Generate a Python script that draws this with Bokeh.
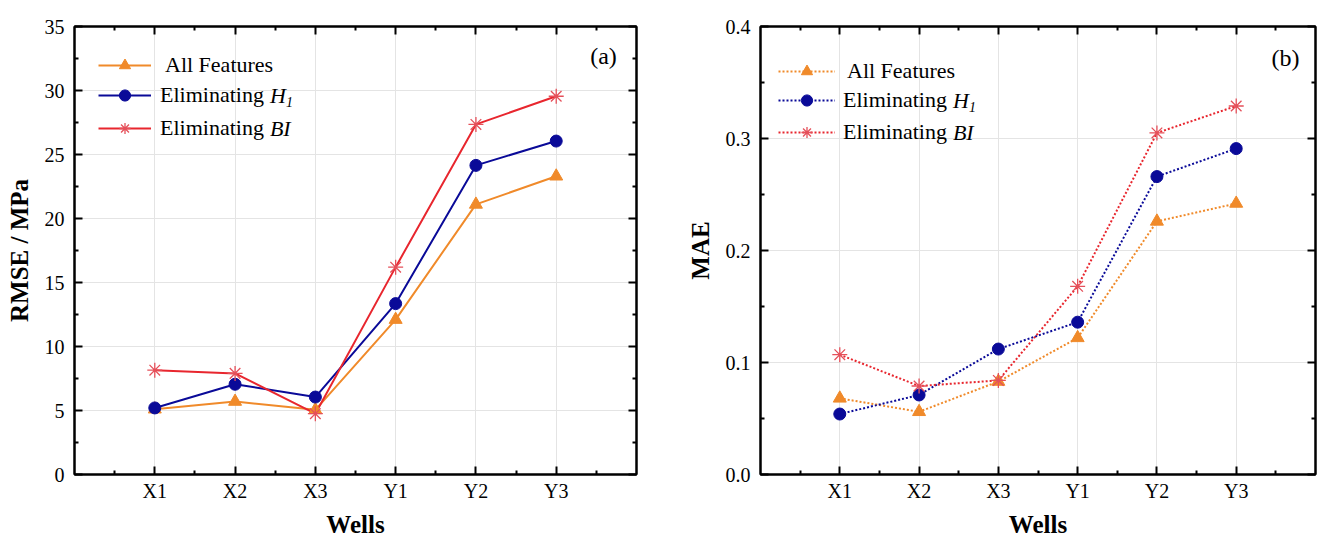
from bokeh.plotting import figure
from bokeh.layouts import row
from bokeh.models import (FixedTicker, LinearAxis, Legend, LegendItem, Label,
                          Range1d, PrintfTickFormatter)
from bokeh.embed import file_html
from bokeh.resources import INLINE

# ---- data ----
wells = ["X1", "X2", "X3", "Y1", "Y2", "Y3"]
well_pos = [1, 2, 3, 4, 5, 6]

rmse_all = [5.1, 5.7, 5.05, 12.1, 21.1, 23.3]
rmse_no_h1 = [5.2, 7.05, 6.05, 13.35, 24.15, 26.05]
rmse_no_bi = [8.15, 7.9, 4.75, 16.2, 27.35, 29.55]

mae_all = [0.068, 0.056, 0.083, 0.122, 0.226, 0.242]
mae_no_h1 = [0.054, 0.071, 0.112, 0.136, 0.266, 0.291]
mae_no_bi = [0.107, 0.079, 0.084, 0.168, 0.305, 0.329]

rmse_ticks = [0, 5, 10, 15, 20, 25, 30, 35]
mae_ticks = [0.0, 0.1, 0.2, 0.3, 0.4]

ORANGE = "#F08A2A"
BLUE = "#0A0A98"
RED = "#E8262E"
STAR = "#E5505A"
SERIF = "Liberation Serif"
LEG_SIZE = 22
BOTTOM = 67          # space below the plot frame


def style_axis(ax, ticker, labels=True):
    ax.ticker = ticker
    ax.axis_line_width = 2
    ax.axis_line_color = "black"
    ax.major_tick_line_width = 2
    ax.minor_tick_line_width = 2
    ax.major_tick_in = 8
    ax.major_tick_out = 0
    ax.minor_tick_in = 4
    ax.minor_tick_out = 0
    ax.major_label_text_font = SERIF
    ax.major_label_text_font_size = "20px"
    ax.major_label_text_color = "black"
    ax.axis_label_text_font = SERIF
    ax.axis_label_text_font_style = "bold"
    ax.axis_label_text_font_size = "25px"
    ax.axis_label_text_color = "black"
    if not labels:
        ax.major_label_overrides = {t: "" for t in ticker.ticks}
        ax.major_label_text_font_size = "0px"


def make_panel(values, y_ticks, y_minor, y_label, y_fmt, tag, dash,
               width, border_left, border_right, border_top,
               leg_x, leg_rows_top, glyph_w, standoffs, tag_xy_top):
    p = figure(width=width, height=541, output_backend="svg",
               toolbar_location=None,
               x_range=Range1d(0, 7),
               y_range=Range1d(y_ticks[0], y_ticks[-1]),
               min_border_left=border_left, min_border_right=border_right,
               min_border_top=border_top, min_border_bottom=BOTTOM)
    p.background_fill_color = "white"
    p.border_fill_color = "white"
    p.outline_line_color = "black"
    p.outline_line_width = 2
    frame_h = 541 - border_top - BOTTOM

    x_ticker = FixedTicker(ticks=well_pos,
                           minor_ticks=[0.5 + i for i in range(7)])
    y_ticker = FixedTicker(ticks=y_ticks, minor_ticks=y_minor)

    style_axis(p.xaxis[0], x_ticker)
    p.xaxis[0].major_label_overrides = {k: v for k, v in zip(well_pos, wells)}
    p.xaxis[0].major_label_standoff = 5
    p.xaxis[0].axis_label = "Wells"
    p.xaxis[0].axis_label_standoff = 6

    style_axis(p.yaxis[0], y_ticker)
    p.yaxis[0].formatter = PrintfTickFormatter(format=y_fmt)
    p.yaxis[0].major_label_standoff = 10
    p.yaxis[0].axis_label = y_label
    p.yaxis[0].axis_label_standoff = 9

    top = LinearAxis()
    style_axis(top, FixedTicker(ticks=well_pos,
                                minor_ticks=[0.5 + i for i in range(7)]),
               labels=False)
    p.add_layout(top, "above")
    right = LinearAxis()
    style_axis(right, FixedTicker(ticks=y_ticks, minor_ticks=y_minor),
               labels=False)
    p.add_layout(right, "right")

    p.xgrid.ticker = FixedTicker(ticks=well_pos)
    p.xgrid.grid_line_color = "#e4e4e4"
    p.ygrid.grid_line_color = "#e4e4e4"
    p.xgrid.grid_line_width = 1
    p.ygrid.grid_line_width = 1

    all_v, h1_v, bi_v = values
    r_all_l = p.line(well_pos, all_v, line_color=ORANGE, line_width=2,
                     line_dash=dash)
    r_h1_l = p.line(well_pos, h1_v, line_color=BLUE, line_width=2,
                    line_dash=dash)
    r_bi_l = p.line(well_pos, bi_v, line_color=RED, line_width=2,
                    line_dash=dash)
    r_all_m = p.scatter(well_pos, all_v, marker="triangle", size=13,
                        fill_color=ORANGE, line_color=ORANGE)
    r_h1_m = p.scatter(well_pos, h1_v, marker="circle", size=12,
                       fill_color=BLUE, line_color=BLUE)
    r_bi_m = p.scatter(well_pos, bi_v, marker="asterisk", size=15,
                       line_color=STAR, line_width=1.3)

    # legend rows, measured from the top of the frame
    rows = [frame_h - r for r in leg_rows_top]
    items = [("All Features", [r_all_l, r_all_m]),
             ("Eliminating", [r_h1_l, r_h1_m]),
             ("Eliminating", [r_bi_l, r_bi_m])]
    item_h = 28
    for (lab, rends), cy, so in zip(items, rows, standoffs):
        leg = Legend(items=[LegendItem(label=lab, renderers=rends)],
                     location=(leg_x, cy - item_h // 2),
                     padding=0, margin=0, spacing=0,
                     glyph_width=glyph_w, glyph_height=item_h,
                     label_height=item_h, label_standoff=so,
                     border_line_color=None, background_fill_alpha=0,
                     label_text_font=SERIF,
                     label_text_font_size=f"{LEG_SIZE}px",
                     label_text_color="black")
        p.add_layout(leg)

    # italic parts of the legend entries
    text_x = leg_x + glyph_w + standoffs[1]
    ital_x = text_x + 4.973 * LEG_SIZE
    p.add_layout(Label(x=ital_x, y=rows[1], x_units="screen",
                       y_units="screen", text="H", text_font=SERIF,
                       text_font_style="italic",
                       text_font_size=f"{LEG_SIZE}px",
                       text_baseline="middle", text_color="black"))
    p.add_layout(Label(x=ital_x + 16, y=rows[1] - 6, x_units="screen",
                       y_units="screen", text="1", text_font=SERIF,
                       text_font_style="italic", text_font_size="14px",
                       text_baseline="middle", text_color="black"))
    p.add_layout(Label(x=ital_x, y=rows[2], x_units="screen",
                       y_units="screen", text="BI", text_font=SERIF,
                       text_font_style="italic",
                       text_font_size=f"{LEG_SIZE}px",
                       text_baseline="middle", text_color="black"))

    p.add_layout(Label(x=tag_xy_top[0], y=frame_h - tag_xy_top[1],
                       x_units="screen", y_units="screen", text=tag,
                       text_font=SERIF, text_font_size="24px",
                       text_align="center", text_baseline="middle",
                       text_color="black"))
    return p


p1 = make_panel((rmse_all, rmse_no_h1, rmse_no_bi), rmse_ticks,
                [2.5 + 5 * i for i in range(7)], "RMSE / MPa", "%d", "(a)",
                "solid", 660, 74, 24, 22,
                24, [43, 73, 106], 53, [14, 9, 9], (529, 33))

p2 = make_panel((mae_all, mae_no_h1, mae_no_bi), mae_ticks,
                [0.05, 0.15, 0.25, 0.35], "MAE", "%.1f", "(b)",
                "2 2", 658, 100, 3, 26,
                18, [45, 74, 106], 57, [12, 8, 8], (525, 31))

layout = row(p1, p2)
open("out.html", "w").write(file_html(layout, INLINE))
